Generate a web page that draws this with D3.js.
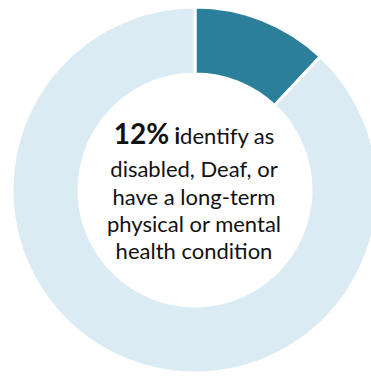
<!DOCTYPE html>
<html>
<head>
<meta charset="utf-8">
<script src="https://cdn.jsdelivr.net/npm/d3@7"></script>
<style>
  html, body { margin: 0; padding: 0; background: #ffffff; }
  svg { display: block; }
</style>
</head>
<body>
<svg id="chart" width="371" height="376"></svg>
<script>
// Share of respondents, in percent
const categories = ["Disabled, Deaf or long-term condition", "Other"];
const values = [12, 88];
const colors = ["#2C7F9B", "#DAEBF3"];

// Centre caption lines
const headline = "12%";
const captionLines = ["disabled, Deaf, or", "have a long-term", "physical or mental", "health condition"];

const svg = d3.select("#chart");
const cx = 195, cy = 190;
const outerR = 183, innerR = 116;

const pie = d3.pie().sort(null).value(d => d.value);
const arc = d3.arc().innerRadius(innerR).outerRadius(outerR);

const data = categories.map((c, i) => ({ name: c, value: values[i] }));

const g = svg.append("g").attr("transform", `translate(${cx},${cy})`);

g.selectAll("path")
  .data(pie(data))
  .join("path")
  .attr("d", arc)
  .attr("fill", (d, i) => colors[i])
  .attr("stroke", "#ffffff")
  .attr("stroke-width", 3);

// Caption in the hole
const font = "Lato, 'Open Sans', sans-serif";
const bodySize = 22;
const t = svg.append("text")
  .attr("x", 194)
  .attr("y", 144)
  .attr("text-anchor", "middle")
  .attr("font-family", font)
  .attr("fill", "#111111");
t.append("tspan").attr("font-size", 28).attr("font-weight", 700).text(headline);
t.append("tspan").attr("font-size", bodySize).attr("font-weight", 700).text(" i");
t.append("tspan").attr("font-size", bodySize).attr("font-weight", 400).text("dentify as");

const baselines = [177, 205, 232, 259];
svg.selectAll("text.line")
  .data(captionLines)
  .join("text")
  .attr("class", "line")
  .attr("x", 194)
  .attr("y", (d, i) => baselines[i])
  .attr("text-anchor", "middle")
  .attr("font-family", font)
  .attr("font-size", bodySize)
  .attr("fill", "#111111")
  .text(d => d);
</script>
</body>
</html>
